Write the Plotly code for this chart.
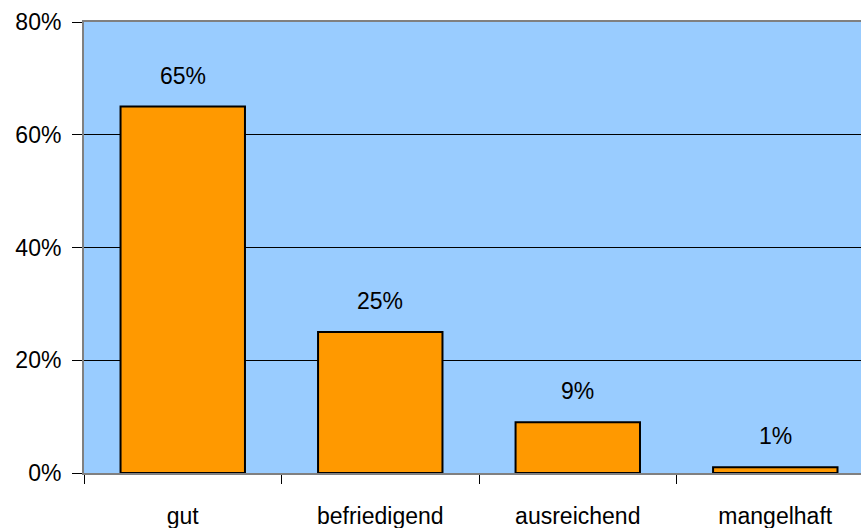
import plotly.graph_objects as go

categories = ["gut", "befriedigend", "ausreichend", "mangelhaft"]
values = [65, 25, 9, 1]
value_labels = ["65%", "25%", "9%", "1%"]
y_ticks = [0, 20, 40, 60, 80]
y_tick_labels = ["0%", "20%", "40%", "60%", "80%"]

font_family = "Liberation Sans, Arial, sans-serif"
fsize = 23

fig = go.Figure()
fig.add_trace(go.Bar(
    x=categories, y=values, width=0.63,
    marker=dict(color="#FF9900", line=dict(color="black", width=2)),
    hoverinfo="skip",
))

for c, v, t in zip(categories, values, value_labels):
    fig.add_annotation(x=c, y=v, text=t, showarrow=False, yanchor="bottom",
                       yshift=16, font=dict(size=fsize, color="black", family=font_family))

fig.update_layout(
    width=861, height=528,
    margin=dict(l=84, r=0, t=22, b=55),
    paper_bgcolor="white", plot_bgcolor="#99CCFF",
    showlegend=False,
    font=dict(family=font_family, size=fsize, color="black"),
    xaxis=dict(
        range=[-0.5, 3.434], type="category",
        showline=True, linecolor="#808080", linewidth=2, mirror=True,
        ticks="outside", tickson="boundaries", ticklen=9, tickcolor="black", tickwidth=1,
        ticklabelstandoff=21,
        showgrid=False, tickfont=dict(size=fsize),
    ),
    yaxis=dict(
        range=[0, 80], tickvals=y_ticks, ticktext=y_tick_labels,
        showline=True, linecolor="#808080", linewidth=2,
        ticks="outside", ticklen=10, tickcolor="black", tickwidth=1,
        ticklabelstandoff=6,
        showgrid=True, gridcolor="black", gridwidth=1,
        zeroline=False, tickfont=dict(size=fsize),
    ),
    bargap=0.37,
)

fig.write_html("out.html")
